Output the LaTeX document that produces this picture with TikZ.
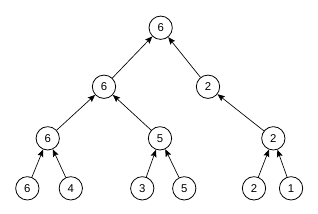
\documentclass[tikz,border=0pt]{standalone}
\usepackage{fontspec}
\setmainfont{Liberation Sans}
\usepackage{tikz}
\usetikzlibrary{arrows.meta,positioning}
\tikzset{
  treenode/.style={
    circle, draw=black, line width=0.6pt, fill=white,
    minimum size=17.5pt, inner sep=0pt,
    font=\fontsize{8.5}{10}\selectfont
  },
  treeedge/.style={
    -{Stealth[length=5.5pt, width=4.5pt, inset=1pt]}, line width=0.5pt, color=black
  },
}
\begin{document}
\begin{tikzpicture}[on grid]
  \useasboundingbox (-120.5pt,20.8pt) rectangle (118pt,-139.7pt);

  % Root of the tree
  \node[treenode] (root) {6};

  % Second level
  \node[treenode, below left=44.25pt and 42.5pt of root] (na) {6};
  \node[treenode, below right=44.25pt and 35.5pt of root] (nb) {2};

  % Third level
  \node[treenode, below left=38.7pt and 42.2pt of na] (nc) {6};
  \node[treenode, below right=38.7pt and 42pt of na] (nd) {5};
  \node[treenode, below right=38.7pt and 49pt of nb] (ne) {2};

  % Leaves
  \node[treenode, below left=37.5pt and 15.3pt of nc] (l1) {6};
  \node[treenode, below right=37.5pt and 17.3pt of nc] (l2) {4};
  \node[treenode, below left=37.5pt and 13.3pt of nd] (l3) {3};
  \node[treenode, below right=37.5pt and 18.2pt of nd] (l4) {5};
  \node[treenode, below left=37.5pt and 14.5pt of ne] (l5) {2};
  \node[treenode, below right=37.5pt and 13.3pt of ne] (l6) {1};

  % Edges point up to the parent
  \draw[treeedge] (na) -- (root);
  \draw[treeedge] (nb) -- (root);
  \draw[treeedge] (nc) -- (na);
  \draw[treeedge] (nd) -- (na);
  \draw[treeedge] (ne) -- (nb);
  \draw[treeedge] (l1) -- (nc);
  \draw[treeedge] (l2) -- (nc);
  \draw[treeedge] (l3) -- (nd);
  \draw[treeedge] (l4) -- (nd);
  \draw[treeedge] (l5) -- (ne);
  \draw[treeedge] (l6) -- (ne);
\end{tikzpicture}
\end{document}
